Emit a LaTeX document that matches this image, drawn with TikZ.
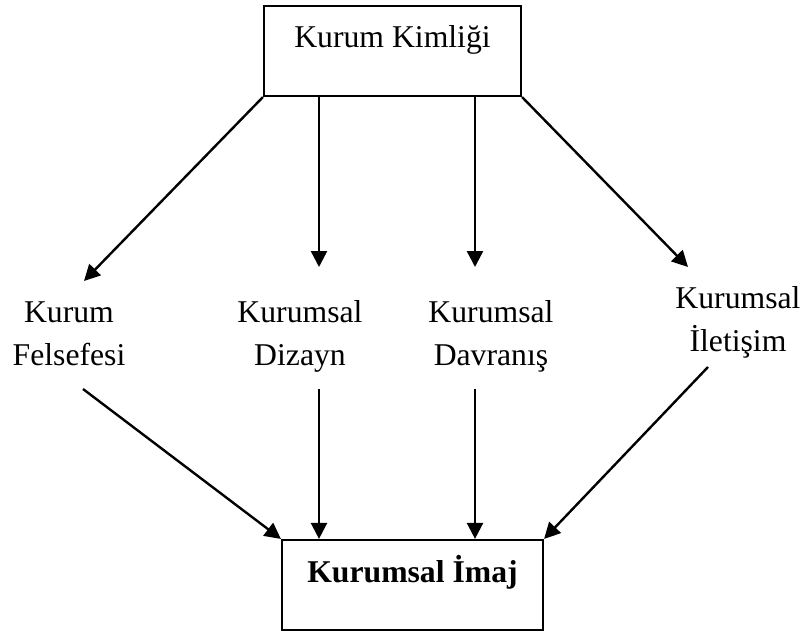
\documentclass[tikz,border=0pt]{standalone}
\usepackage{fontspec}
\setmainfont{Liberation Serif}
\usetikzlibrary{arrows.meta,calc}
\begin{document}
\begin{tikzpicture}[x=1pt,y=-1pt,
  box/.style={draw,line width=2.2pt,inner sep=0pt,font=\fontsize{31.7}{43}\selectfont},
  lbl/.style={align=center,inner sep=0pt,font=\fontsize{31.7}{43}\selectfont},
  arr/.style={line width=2.4pt,-{Triangle[length=16pt,width=16pt]}}]
\useasboundingbox (0,0) rectangle (804,633);
\node[box,minimum width=257pt,minimum height=90pt,text height=22pt,text depth=30pt] (kk) at (392.5,51) {Kurum Kimliği};
\node[box,minimum width=261pt,minimum height=90pt,text height=22pt,text depth=28pt] (ki) at (412.5,585) {\bfseries Kurumsal İmaj};
\node[lbl,anchor=base] (kf) at (69,365) {Kurum\\Felsefesi};
\node[lbl,anchor=base] (kd) at (300,365) {Kurumsal\\Dizayn};
\node[lbl,anchor=base] (kv) at (491,365) {Kurumsal\\Davranış};
\node[lbl,anchor=base] (ke) at (738,351) {Kurumsal\\İletişim};
% arrow ends from top
\coordinate (t1) at (84,281);
\coordinate (t2) at (319,267);
\coordinate (t3) at (475,267);
\coordinate (t4) at (688,267);
% arrow starts to bottom
\coordinate (b1) at (83,389);
\coordinate (b2) at (319,389);
\coordinate (b3) at (475,389);
\coordinate (b4) at (708,367);
\draw[arr] (kk.south west) -- (t1);
\draw[arr] (kk.south -| t2) -- (t2);
\draw[arr] (kk.south -| t3) -- (t3);
\draw[arr] (kk.south east) -- (t4);
\draw[arr] (b1) -- (ki.north west);
\draw[arr] (b2) -- (ki.north -| b2);
\draw[arr] (b3) -- (ki.north -| b3);
\draw[arr] (b4) -- (ki.north east);
\end{tikzpicture}
\end{document}
